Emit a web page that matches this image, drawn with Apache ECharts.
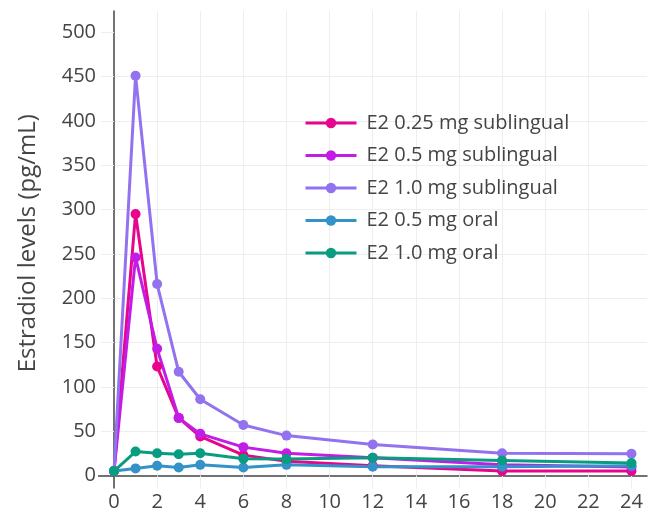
<!DOCTYPE html>
<html>
<head>
<meta charset="utf-8">
<script src="https://cdn.jsdelivr.net/npm/echarts@6/dist/echarts.min.js"></script>
<style>
html,body{margin:0;padding:0;background:#fff;}
#chart{width:651px;height:514px;}
</style>
</head>
<body>
<div id="chart"></div>
<script>
var hours = [0, 1, 2, 3, 4, 6, 8, 12, 18, 24];
var xTicks = [0, 2, 4, 6, 8, 10, 12, 14, 16, 18, 20, 22, 24];
var yTicks = [0, 50, 100, 150, 200, 250, 300, 350, 400, 450, 500];
var seriesNames = ['E2 0.25 mg sublingual', 'E2 0.5 mg sublingual', 'E2 1.0 mg sublingual', 'E2 0.5 mg oral', 'E2 1.0 mg oral'];
var sub025 = [5, 295, 123, 65, 44, 23, 16, 11, 5, 5];
var sub05 = [5, 246, 143, 65, 47, 32, 25, 20, 12, 9.5];
var sub10 = [5, 451, 216, 117, 86, 57, 45, 35, 25, 24.5];
var oral05 = [5, 8, 11, 9, 12, 9, 12, 10, 10, 11];
var oral10 = [5, 27, 25, 24, 25, 19, 18.5, 20, 17, 14];
var colors = ['#e6058c', '#c41ce7', '#9272ef', '#3392c8', '#089d80'];
var allData = [sub025, sub05, sub10, oral05, oral10];

var font = 'Open Sans';
var series = seriesNames.map(function (name, i) {
  return {
    name: name,
    type: 'line',
    xAxisIndex: 0,
    yAxisIndex: 0,
    data: hours.map(function (h, j) { return [h, allData[i][j]]; }),
    symbol: 'circle',
    symbolSize: 10,
    showSymbol: true,
    lineStyle: { width: 3, color: colors[i] },
    itemStyle: { color: colors[i] },
    emphasis: { disabled: true },
    animation: false
  };
});

var chart = echarts.init(document.getElementById('chart'), null, { renderer: 'canvas' });
chart.setOption({
  backgroundColor: '#fff',
  animation: false,
  grid: { left: 114, top: 11, right: 4, bottom: 38.5, containLabel: false },
  legend: {
    orient: 'vertical',
    left: 304,
    top: 113,
    padding: 0,
    itemWidth: 51,
    itemHeight: 13,
    itemGap: 12.5,
    data: seriesNames,
    lineStyle: { width: 3 },
    textStyle: { fontFamily: font, fontSize: 20, color: '#444', lineHeight: 20, padding: [0, 0, 0, 5] },
    selectedMode: false
  },
  xAxis: [{
    type: 'value',
    min: 0,
    max: 24.72,
    interval: 2,
    axisLine: { show: true, onZero: false, lineStyle: { color: '#444', width: 1.5 } },
    axisTick: { show: true, inside: false, length: 13, customValues: xTicks, lineStyle: { color: '#eee', width: 1 } },
    axisLabel: { customValues: xTicks, margin: 17, fontFamily: font, fontSize: 20, color: '#444' },
    splitLine: { show: true, showMinLine: false, showMaxLine: false, lineStyle: { color: '#eee', width: 1 } }
  }, {
    type: 'value',
    min: 0,
    max: 24.72,
    position: 'bottom',
    axisLine: { show: false },
    axisTick: { show: true, length: 13, customValues: [0], lineStyle: { color: '#444', width: 1.5 } },
    axisLabel: { show: false },
    splitLine: { show: false }
  }],
  yAxis: [{
    type: 'value',
    min: 0,
    max: 524,
    interval: 50,
    name: 'Estradiol levels (pg/mL)',
    nameLocation: 'middle',
    nameGap: 74,
    nameTextStyle: { fontFamily: font, fontSize: 24, color: '#444' },
    axisLine: { show: true, onZero: false, lineStyle: { color: '#444', width: 1.5 } },
    axisTick: { show: true, inside: false, length: 13, customValues: yTicks, lineStyle: { color: '#eee', width: 1 } },
    axisLabel: { customValues: yTicks, margin: 18, fontFamily: font, fontSize: 20, color: '#444' },
    splitLine: { show: true, showMinLine: false, showMaxLine: false, lineStyle: { color: '#eee', width: 1 } }
  }, {
    type: 'value',
    min: 0,
    max: 524,
    position: 'left',
    axisLine: { show: false },
    axisTick: { show: true, length: 16, customValues: [0], lineStyle: { color: '#444', width: 1.5 } },
    axisLabel: { show: false },
    splitLine: { show: false }
  }],
  series: series
});
</script>
</body>
</html>
